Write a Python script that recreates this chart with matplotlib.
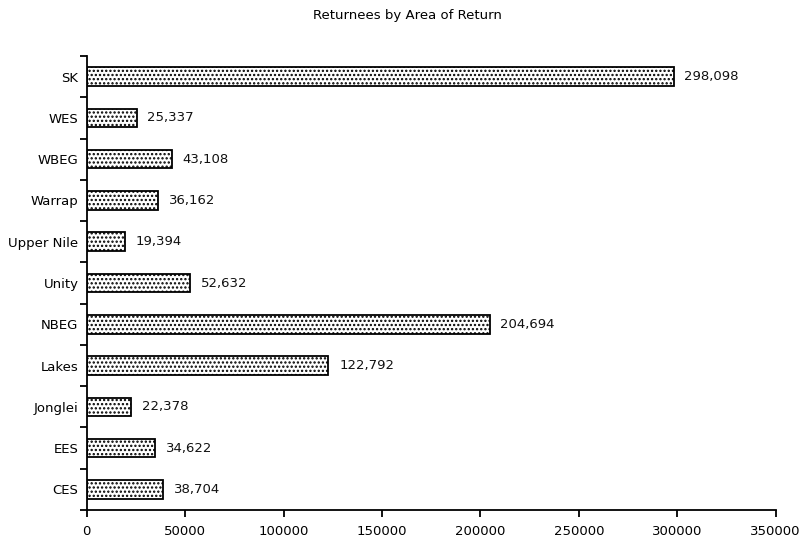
import matplotlib
matplotlib.use("Agg")
import matplotlib.pyplot as plt

# Returnees per area, top to bottom as listed on the chart
areas = ["SK", "WES", "WBEG", "Warrap", "Upper Nile", "Unity",
         "NBEG", "Lakes", "Jonglei", "EES", "CES"]
returnees = [298098, 25337, 43108, 36162, 19394, 52632,
             204694, 122792, 22378, 34622, 38704]
x_ticks = [0, 50000, 100000, 150000, 200000, 250000, 300000, 350000]

plt.rcParams["font.family"] = ["DejaVu Sans"]
plt.rcParams["hatch.linewidth"] = 1.1

fig = plt.figure(figsize=(8.03, 5.43), dpi=100)
ax = fig.add_axes([0.108, 0.0608, 0.858, 0.836])

n = len(areas)
ypos = list(range(n - 1, -1, -1))
ax.barh(ypos, returnees, height=0.45, color="white", edgecolor="black",
        linewidth=1.3, hatch="....", zorder=2)

for y, v in zip(ypos, returnees):
    ax.text(v + 5500, y, f"{v:,}", va="center", ha="left", fontsize=9.5,
            color="#111111")

ax.set_xlim(0, 350000)
ax.set_ylim(-0.5, n - 0.5)
ax.set_xticks(x_ticks)
ax.set_xticklabels([str(t) for t in x_ticks], fontsize=9.5)

# Category labels in band centres, ticks on band boundaries
ax.set_yticks(ypos)
ax.set_yticklabels(areas, fontsize=9.5)
ax.tick_params(axis="y", which="major", length=0, pad=6)
ax.set_yticks([i - 0.5 for i in range(n + 1)], minor=True)
ax.tick_params(axis="y", which="minor", length=5, width=1.3, direction="out")
ax.tick_params(axis="x", length=5, width=1.3, direction="out", pad=6)

for side in ("top", "right"):
    ax.spines[side].set_visible(False)
for side in ("left", "bottom"):
    ax.spines[side].set_linewidth(1.3)

fig.text(0.508, 0.972, "Returnees by Area of Return", ha="center",
         va="center", fontsize=9.5)

fig.savefig("out.png", dpi=100, facecolor="white")
